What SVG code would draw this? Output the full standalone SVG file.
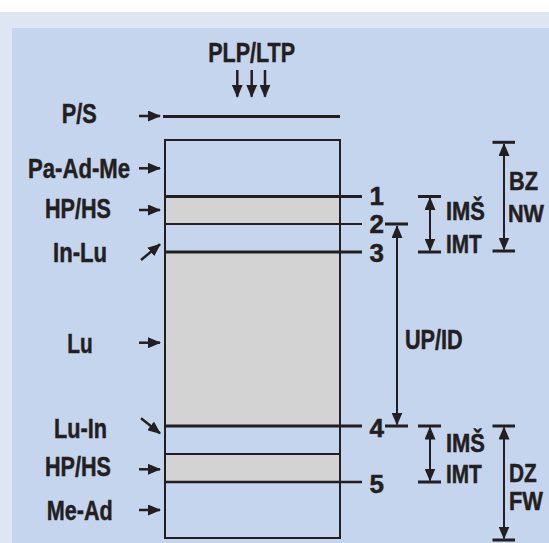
<svg xmlns="http://www.w3.org/2000/svg" width="549" height="543" viewBox="0 0 549 543">
<style>
text{font-family:"Liberation Sans",Arial,sans-serif;font-weight:bold;fill:#231f20;stroke:#231f20;stroke-width:0.5;}
.l{font-size:27.5px;}
.r{font-size:26px;}
.n{font-size:26px;text-anchor:middle;}
.ln{stroke:#231f20;fill:none;}
.a{stroke:#231f20;stroke-width:2.5;fill:none;marker-end:url(#ah);}
.d{stroke:#231f20;stroke-width:2;fill:none;marker-end:url(#ah);marker-start:url(#ah);}
.t{stroke:#231f20;stroke-width:3;}
</style>
<defs>
<marker id="ah" viewBox="0 0 13 11" refX="12" refY="5.5" markerWidth="13" markerHeight="11" markerUnits="userSpaceOnUse" orient="auto-start-reverse">
<path d="M0,0 L13,5.5 L0,11 Z" fill="#231f20"/>
</marker>
</defs>
<rect x="0" y="0" width="549" height="543" fill="#ffffff"/>
<rect x="0" y="12" width="549" height="531" fill="#dfe6f3"/>
<rect x="12" y="28" width="537" height="515" fill="#c6d5ee"/>

<g id="layers">
<rect x="165" y="197" width="175" height="27" fill="#d3d3d3"/>
<rect x="165" y="252" width="175" height="174" fill="#d3d3d3"/>
<rect x="165" y="454" width="175" height="28" fill="#d3d3d3"/>
<rect x="165" y="140" width="175" height="398" class="ln" stroke-width="2"/>
<line x1="163" y1="116.5" x2="340" y2="116.5" class="ln" stroke-width="3"/>
<line x1="165" y1="196.5" x2="362" y2="196.5" class="ln" stroke-width="3"/>
<line x1="165" y1="224" x2="362" y2="224" class="ln" stroke-width="2"/>
<line x1="165" y1="252" x2="362" y2="252" class="ln" stroke-width="3"/>
<line x1="165" y1="426" x2="362" y2="426" class="ln" stroke-width="3"/>
<line x1="165" y1="454" x2="340" y2="454" class="ln" stroke-width="2"/>
<line x1="165" y1="482" x2="362" y2="482" class="ln" stroke-width="2.5"/>
</g>

<g id="left-labels">
<text class="l" x="208.3" y="61.7" textLength="86.7" lengthAdjust="spacingAndGlyphs">PLP/LTP</text>
<text class="l" x="61.7" y="123.3" textLength="35" lengthAdjust="spacingAndGlyphs">P/S</text>
<text class="l" x="28" y="178.3" textLength="102" lengthAdjust="spacingAndGlyphs">Pa-Ad-Me</text>
<text class="l" x="45" y="218.3" textLength="66" lengthAdjust="spacingAndGlyphs">HP/HS</text>
<text class="l" x="53" y="261.7" textLength="54" lengthAdjust="spacingAndGlyphs">In-Lu</text>
<text class="l" x="67.3" y="353.3" textLength="25.4" lengthAdjust="spacingAndGlyphs">Lu</text>
<text class="l" x="54" y="438.3" textLength="53" lengthAdjust="spacingAndGlyphs">Lu-In</text>
<text class="l" x="45" y="476" textLength="66" lengthAdjust="spacingAndGlyphs">HP/HS</text>
<text class="l" x="46.7" y="520" textLength="66" lengthAdjust="spacingAndGlyphs">Me-Ad</text>
</g>

<g id="numbers">
<text class="n" x="376.7" y="205">1</text>
<text class="n" x="376.7" y="233.3">2</text>
<text class="n" x="376.7" y="261.7">3</text>
<text class="n" x="376.7" y="436.7">4</text>
<text class="n" x="376.7" y="493.3">5</text>
</g>

<g id="right-labels">
<text class="r" x="446" y="220" textLength="39" lengthAdjust="spacingAndGlyphs">IMŠ</text>
<text class="r" x="446" y="252.7" textLength="35.7" lengthAdjust="spacingAndGlyphs">IMT</text>
<text class="r" x="446" y="451.7" textLength="39" lengthAdjust="spacingAndGlyphs">IMŠ</text>
<text class="r" x="446" y="483.3" textLength="35.7" lengthAdjust="spacingAndGlyphs">IMT</text>
<text class="r" x="509" y="190" textLength="29" lengthAdjust="spacingAndGlyphs">BZ</text>
<text class="r" x="508" y="221.5" style="font-size:24px" textLength="36" lengthAdjust="spacingAndGlyphs">NW</text>
<text class="r" x="509" y="481.7" textLength="27.7" lengthAdjust="spacingAndGlyphs">DZ</text>
<text class="r" x="509" y="510" textLength="34" lengthAdjust="spacingAndGlyphs">FW</text>
<text class="l" x="405" y="349.3" textLength="57.7" lengthAdjust="spacingAndGlyphs">UP/ID</text>
</g>

<g id="connectors">
<line class="a" x1="237.3" y1="70" x2="237.3" y2="96.7"/>
<line class="a" x1="251.7" y1="70" x2="251.7" y2="96.7"/>
<line class="a" x1="265" y1="70" x2="265" y2="96.7"/>
<line class="a" x1="139" y1="116" x2="160" y2="116"/>
<line class="a" x1="139" y1="168.3" x2="160" y2="168.3"/>
<line class="a" x1="139" y1="210" x2="160" y2="210"/>
<line class="a" x1="141" y1="260" x2="160" y2="244.3"/>
<line class="a" x1="139" y1="342.7" x2="160" y2="342.7"/>
<line class="a" x1="141" y1="418.3" x2="160" y2="433.3"/>
<line class="a" x1="139" y1="469.3" x2="160" y2="469.3"/>
<line class="a" x1="139" y1="510" x2="160" y2="510"/>

<line class="t" x1="385" y1="224" x2="408" y2="224"/>
<line class="t" x1="385" y1="426" x2="408" y2="426"/>
<line class="d" x1="397" y1="226" x2="397" y2="424.5"/>

<line class="t" x1="418" y1="196.5" x2="441" y2="196.5"/>
<line class="t" x1="418" y1="252" x2="441" y2="252"/>
<line class="d" x1="430" y1="198" x2="430" y2="250.5"/>

<line class="t" x1="418" y1="426" x2="441" y2="426"/>
<line class="t" x1="418" y1="482" x2="441" y2="482"/>
<line class="d" x1="430" y1="427.5" x2="430" y2="480.5"/>

<line class="t" x1="492.5" y1="142.3" x2="515" y2="142.3"/>
<line class="t" x1="492.5" y1="251" x2="515" y2="251"/>
<line class="d" x1="504" y1="144" x2="504" y2="249.5"/>

<line class="t" x1="492.5" y1="426" x2="515" y2="426"/>
<line class="t" x1="492.5" y1="540" x2="515" y2="540"/>
<line class="d" x1="504" y1="427.5" x2="504" y2="538.5"/>
</g>
</svg>
